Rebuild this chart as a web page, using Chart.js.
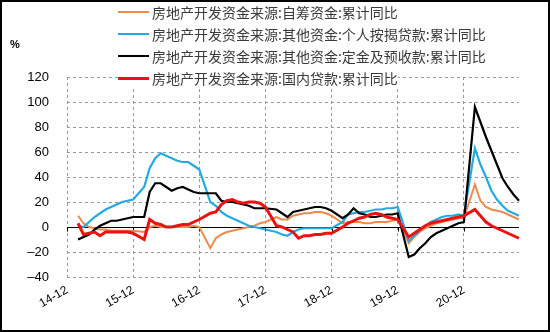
<html lang="zh">
<head>
<meta charset="utf-8">
<script src="https://cdn.jsdelivr.net/npm/chart.js@4.4.0/dist/chart.umd.min.js"></script>
<title>房地产开发资金来源</title>
<style>
    body { margin:0; background:#fff; }
    #box { position:relative; width:550px; height:332px; overflow:hidden; background:#fff; }
    #box canvas { position:absolute; left:0; top:0; }
    #frame {
        position:absolute; left:0; top:0; width:550px; height:332px;
        border:2px solid #000; box-sizing:border-box; pointer-events:none;
    }
    #unit { position:absolute; left:10px; top:38px; font:bold 11px "Liberation Sans", Arial, sans-serif; color:#000; }
    #legend { position:absolute; left:118px; top:1px; font:14px "Noto Sans CJK SC", sans-serif; color:#3a3a3a; }
    #legend div { height:22px; display:flex; align-items:center; white-space:nowrap; width:max-content; background:#fff; }
    #legend span.ln { display:inline-block; width:31px; margin-right:3px; }
</style>
</head>
<body>
<div id="box">
    <canvas id="chart" width="550" height="332"></canvas>
    <div id="unit">%</div>
    <div id="legend"></div>
    <div id="frame"></div>
</div>
<script>
    // months on the axis, 14-12 .. 21-10 (January has no cumulative figure)
    const months = [];
    for (let y = 14; y <= 21; y++) {
        for (let m = 1; m <= 12; m++) {
            if ((y === 14 && m < 12) || (y === 21 && m > 10)) continue;
            months.push(y + '-' + String(m).padStart(2, '0'));
        }
    }
    const tickLabels = ['14-12', '15-12', '16-12', '17-12', '18-12', '19-12', '20-12'];

    const seriesNames = [
        '房地产开发资金来源:自筹资金:累计同比',
        '房地产开发资金来源:其他资金:个人按揭贷款:累计同比',
        '房地产开发资金来源:其他资金:定金及预收款:累计同比',
        '房地产开发资金来源:国内贷款:累计同比'
    ];
    const seriesColors = ['#ED8B4C', '#22AAE2', '#000000', '#EE1111'];
    const seriesWidths = [2, 2.2, 2.2, 3];

    const selfFunds = [
        null,
        null, 9, 3, 0, -1, -2, -2, -3, -3, -3, -3, -3,
        null, -4, 0, 1, 0, 0, 0, 0, 0, 0, 1, 0,
        null, -17, -9, -6, -4, -3, -2, -1, 0, 1, 3, 4,
        null, 8, 6, 6, 9, 10, 11, 11, 12, 12, 11, 9,
        null, 3, 4, 4, 4, 3, 3, 4, 4, 4, 5, 6,
        null, -13, -8, -4, -1, 1, 3, 4, 5, 6, 7, 7,
        null, 34, 21, 16, 14, 13, 12, 10, 8, 6
    ];
    const mortgage = [
        null,
        null, 1, 0, 4, 8, 11, 14, 16, 18, 20, 21, 22,
        null, 32, 47, 55, 59, 57, 55, 53, 52, 52, 49, 46,
        null, 20, 17, 12, 9, 7, 5, 3, 1, 0, -1, -2,
        null, -4, -6, -7, -4, -2, -1, -1, -1, -1, -1, -1,
        null, 4, 10, 11, 12, 12, 13, 14, 14, 15, 15, 16,
        null, -11, -7, -3, 1, 4, 6, 8, 9, 9, 10, 9,
        null, 63, 50, 40, 29, 22, 17, 13, 11, 9
    ];
    const deposits = [
        null,
        null, -10, -8, -6, -2, 1, 3, 5, 5, 6, 7, 8,
        null, 8, 28, 35, 35, 32, 29, 31, 32, 30, 28, 27,
        null, 27, 27, 21, 20, 20, 19, 18, 17, 15, 15, 15,
        null, 14, 11, 8, 12, 13, 14, 15, 16, 16, 15, 13,
        null, 7, 10, 15, 11, 10, 8, 8, 9, 10, 10, 11,
        null, -24, -22, -17, -13, -8, -5, -3, -1, 1, 3, 4,
        null, 96, 84, 72, 61, 50, 39, 32, 26, 21
    ];
    const domesticLoans = [
        null,
        null, 3, -6, -5, -4, -7, -4, -4, -4, -4, -4, -5,
        null, -10, 6, 3, 2, 0, 0, 1, 2, 2, 4, 6,
        null, 11, 12, 18, 21, 22, 20, 19, 20, 20, 19, 16,
        null, 1, 0, -2, -4, -9, -7, -7, -6, -6, -5, -5,
        null, 0, 3, 5, 7, 8, 10, 11, 10, 8, 7, 6,
        null, -8, -5, -2, 1, 3, 4, 5, 6, 7, 8, 9,
        null, 14, 9, 4, 1, -1, -3, -5, -7, -9
    ];
    const seriesData = [selfFunds, mortgage, deposits, domesticLoans];

    const gridColor = '#999999';

    // legend drawn as html so it can sit over the top of the plot like the original
    const legend = document.getElementById('legend');
    seriesNames.forEach(function (name, i) {
        const row = document.createElement('div');
        const ln = document.createElement('span');
        ln.className = 'ln';
        ln.style.height = seriesWidths[i] + 'px';
        ln.style.background = seriesColors[i];
        row.appendChild(ln);
        row.appendChild(document.createTextNode(name));
        legend.appendChild(row);
    });

    // solid zero line with small tick marks at each December
    const zeroLine = {
        id: 'zeroLine',
        beforeDatasetsDraw(chart) {
            const ctx = chart.ctx, area = chart.chartArea;
            const y0 = Math.round(chart.scales.y.getPixelForValue(0)) + 0.5;
            ctx.save();
            ctx.strokeStyle = '#000';
            ctx.lineWidth = 1;
            ctx.beginPath();
            ctx.moveTo(area.left, y0);
            ctx.lineTo(area.right, y0);
            months.forEach(function (m, i) {
                if (tickLabels.indexOf(m) >= 0) {
                    const x = Math.round(chart.scales.x.getPixelForValue(i)) + 0.5;
                    ctx.moveTo(x, y0);
                    ctx.lineTo(x, y0 + 4);
                }
            });
            ctx.stroke();
            ctx.restore();
        }
    };

    new Chart('chart', {
        type: 'line',
        data: {
            labels: months,
            datasets: seriesData.map(function (d, i) {
                return {
                    label: seriesNames[i],
                    data: d,
                    borderColor: seriesColors[i],
                    borderWidth: seriesWidths[i],
                    pointRadius: 0,
                    tension: 0,
                    spanGaps: true,
                    fill: false,
                    order: 4 - i
                };
            })
        },
        options: {
            responsive: false,
            animation: false,
            devicePixelRatio: 1,
            layout: { padding: { left: 0, right: 31, top: 77, bottom: 0 } },
            plugins: { legend: { display: false }, tooltip: { enabled: false } },
            scales: {
                x: {
                    type: 'category',
                    offset: false,
                    afterFit: function (s) { s.height = 55; },
                    border: { display: false, dash: [3, 3] },
                    grid: {
                        drawTicks: false,
                        lineWidth: 1,
                        color: function (c) {
                            return tickLabels.indexOf(months[c.index]) >= 0 ? gridColor : 'rgba(0,0,0,0)';
                        }
                    },
                    ticks: {
                        autoSkip: false,
                        minRotation: 30,
                        maxRotation: 30,
                        padding: 6,
                        color: '#000',
                        font: { family: '"Liberation Sans", Arial, sans-serif', size: 12 },
                        callback: function (v, i) {
                            return tickLabels.indexOf(months[i]) >= 0 ? months[i] : '';
                        }
                    }
                },
                y: {
                    min: -40,
                    max: 120,
                    afterFit: function (s) { s.width = 67; },
                    border: { display: false, dash: [3, 3] },
                    grid: {
                        drawTicks: false,
                        lineWidth: 1,
                        color: function (c) {
                            return c.tick && c.tick.value === 0 ? 'rgba(0,0,0,0)' : gridColor;
                        }
                    },
                    ticks: {
                        stepSize: 20,
                        padding: 18,
                        color: '#000',
                        font: { family: '"Liberation Sans", Arial, sans-serif', size: 13 },
                        callback: function (v) { return v < 0 ? '\u2013' + Math.abs(v) : String(v); }
                    }
                }
            }
        },
        plugins: [zeroLine]
    });
</script>
</body>
</html>
